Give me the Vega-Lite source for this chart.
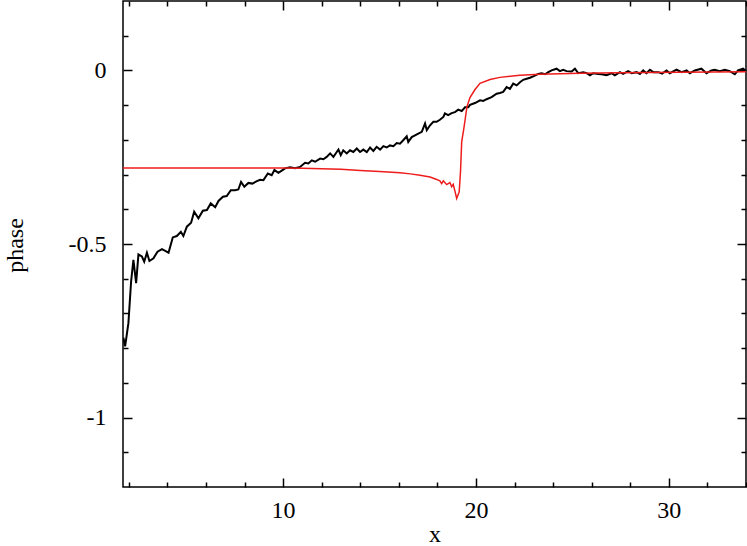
{
  "$schema": "https://vega.github.io/schema/vega-lite/v6.json",
  "width": 623,
  "height": 486,
  "autosize": {"type": "none"},
  "padding": {"left": 123, "top": 1, "right": 1, "bottom": 59},
  "background": "white",
  "config": {
    "font": "Liberation Serif",
    "view": {"stroke": "black", "strokeWidth": 1.5},
    "axis": {
      "domain": false,
      "grid": false,
      "tickColor": "black",
      "tickWidth": 1.5
    }
  },
  "datasets": {
    "black": [
      {"x": 1.72, "y": -0.77}, {"x": 1.81, "y": -0.795}, {"x": 1.98, "y": -0.728}, {"x": 2.12, "y": -0.608},
      {"x": 2.24, "y": -0.546}, {"x": 2.38, "y": -0.613}, {"x": 2.5, "y": -0.53}, {"x": 2.68, "y": -0.536},
      {"x": 2.8, "y": -0.551}, {"x": 2.94, "y": -0.525}, {"x": 3.07, "y": -0.549}, {"x": 3.28, "y": -0.541},
      {"x": 3.49, "y": -0.522}, {"x": 3.72, "y": -0.515}, {"x": 3.89, "y": -0.52}, {"x": 4.06, "y": -0.525},
      {"x": 4.28, "y": -0.481}, {"x": 4.49, "y": -0.477}, {"x": 4.7, "y": -0.465}, {"x": 4.83, "y": -0.477},
      {"x": 5.01, "y": -0.45}, {"x": 5.23, "y": -0.439}, {"x": 5.39, "y": -0.407}, {"x": 5.61, "y": -0.426},
      {"x": 5.84, "y": -0.404}, {"x": 6.05, "y": -0.402}, {"x": 6.25, "y": -0.383}, {"x": 6.48, "y": -0.394},
      {"x": 6.65, "y": -0.376}, {"x": 6.88, "y": -0.364}, {"x": 7.08, "y": -0.362}, {"x": 7.29, "y": -0.345},
      {"x": 7.51, "y": -0.345}, {"x": 7.68, "y": -0.343}, {"x": 7.82, "y": -0.321}, {"x": 7.99, "y": -0.335},
      {"x": 8.2, "y": -0.324}, {"x": 8.41, "y": -0.326}, {"x": 8.64, "y": -0.319}, {"x": 8.81, "y": -0.315},
      {"x": 8.98, "y": -0.316}, {"x": 9.21, "y": -0.297}, {"x": 9.41, "y": -0.302}, {"x": 9.55, "y": -0.287},
      {"x": 9.76, "y": -0.295}, {"x": 9.95, "y": -0.288}, {"x": 10.1, "y": -0.282}, {"x": 10.36, "y": -0.279},
      {"x": 10.62, "y": -0.282}, {"x": 10.88, "y": -0.278}, {"x": 11.14, "y": -0.266}, {"x": 11.31, "y": -0.268},
      {"x": 11.49, "y": -0.259}, {"x": 11.66, "y": -0.263}, {"x": 11.92, "y": -0.254}, {"x": 12.09, "y": -0.256},
      {"x": 12.26, "y": -0.249}, {"x": 12.44, "y": -0.239}, {"x": 12.61, "y": -0.249}, {"x": 12.78, "y": -0.235},
      {"x": 12.87, "y": -0.228}, {"x": 12.99, "y": -0.244}, {"x": 13.12, "y": -0.23}, {"x": 13.3, "y": -0.239},
      {"x": 13.47, "y": -0.23}, {"x": 13.64, "y": -0.235}, {"x": 13.82, "y": -0.225}, {"x": 13.99, "y": -0.235},
      {"x": 14.16, "y": -0.228}, {"x": 14.34, "y": -0.235}, {"x": 14.51, "y": -0.222}, {"x": 14.68, "y": -0.232},
      {"x": 14.85, "y": -0.22}, {"x": 15.03, "y": -0.228}, {"x": 15.2, "y": -0.218}, {"x": 15.37, "y": -0.222},
      {"x": 15.54, "y": -0.216}, {"x": 15.72, "y": -0.218}, {"x": 15.89, "y": -0.209}, {"x": 16.06, "y": -0.211},
      {"x": 16.23, "y": -0.201}, {"x": 16.41, "y": -0.19}, {"x": 16.49, "y": -0.206}, {"x": 16.67, "y": -0.192},
      {"x": 16.84, "y": -0.187}, {"x": 17.01, "y": -0.182}, {"x": 17.19, "y": -0.177}, {"x": 17.36, "y": -0.153},
      {"x": 17.45, "y": -0.172}, {"x": 17.62, "y": -0.158}, {"x": 17.79, "y": -0.148}, {"x": 17.96, "y": -0.148},
      {"x": 18.13, "y": -0.142}, {"x": 18.31, "y": -0.134}, {"x": 18.39, "y": -0.124}, {"x": 18.56, "y": -0.129},
      {"x": 18.74, "y": -0.123}, {"x": 18.91, "y": -0.12}, {"x": 19.08, "y": -0.113}, {"x": 19.26, "y": -0.117},
      {"x": 19.43, "y": -0.106}, {"x": 19.6, "y": -0.106}, {"x": 19.69, "y": -0.099}, {"x": 19.95, "y": -0.094},
      {"x": 20.21, "y": -0.086}, {"x": 20.38, "y": -0.088}, {"x": 20.55, "y": -0.083}, {"x": 20.81, "y": -0.077},
      {"x": 21.07, "y": -0.067}, {"x": 21.24, "y": -0.065}, {"x": 21.41, "y": -0.062}, {"x": 21.59, "y": -0.048},
      {"x": 21.76, "y": -0.053}, {"x": 21.93, "y": -0.038}, {"x": 22.11, "y": -0.043}, {"x": 22.28, "y": -0.034},
      {"x": 22.45, "y": -0.027}, {"x": 22.63, "y": -0.024}, {"x": 22.8, "y": -0.021}, {"x": 22.97, "y": -0.017},
      {"x": 23.23, "y": -0.01}, {"x": 23.4, "y": -0.008}, {"x": 23.58, "y": -0.011}, {"x": 23.75, "y": -0.005},
      {"x": 23.92, "y": 0.0}, {"x": 24.18, "y": 0.005}, {"x": 24.35, "y": -0.002}, {"x": 24.52, "y": 0.002},
      {"x": 24.7, "y": -0.002}, {"x": 24.96, "y": -0.003}, {"x": 25.13, "y": 0.005}, {"x": 25.3, "y": -0.008},
      {"x": 25.56, "y": -0.005}, {"x": 25.74, "y": -0.008}, {"x": 25.91, "y": -0.014}, {"x": 26.08, "y": -0.008},
      {"x": 26.34, "y": -0.01}, {"x": 26.51, "y": -0.011}, {"x": 26.77, "y": -0.014}, {"x": 27.03, "y": -0.008},
      {"x": 27.2, "y": -0.014}, {"x": 27.46, "y": -0.005}, {"x": 27.63, "y": -0.01}, {"x": 27.89, "y": -0.002},
      {"x": 28.07, "y": -0.008}, {"x": 28.33, "y": -0.005}, {"x": 28.5, "y": -0.01}, {"x": 28.67, "y": 0.0},
      {"x": 28.84, "y": -0.008}, {"x": 29.02, "y": 0.002}, {"x": 29.19, "y": -0.005}, {"x": 29.45, "y": -0.005},
      {"x": 29.65, "y": -0.009}, {"x": 29.88, "y": 0.0}, {"x": 30.05, "y": -0.008}, {"x": 30.4, "y": 0.002},
      {"x": 30.66, "y": -0.005}, {"x": 30.92, "y": 0.0}, {"x": 31.09, "y": -0.008}, {"x": 31.35, "y": 0.0},
      {"x": 31.69, "y": 0.005}, {"x": 31.95, "y": -0.008}, {"x": 32.21, "y": 0.0}, {"x": 32.38, "y": 0.002},
      {"x": 32.64, "y": -0.002}, {"x": 32.9, "y": 0.002}, {"x": 33.16, "y": -0.002}, {"x": 33.42, "y": -0.011},
      {"x": 33.59, "y": 0.0}, {"x": 33.85, "y": 0.005}, {"x": 34.0, "y": -0.002}
    ],
    "red": [
      {"x": 1.7, "y": -0.281}, {"x": 5, "y": -0.281}, {"x": 8, "y": -0.281}, {"x": 10, "y": -0.281},
      {"x": 11, "y": -0.282}, {"x": 12, "y": -0.283}, {"x": 13, "y": -0.285}, {"x": 14, "y": -0.288},
      {"x": 15, "y": -0.291}, {"x": 16.06, "y": -0.295}, {"x": 16.6, "y": -0.298}, {"x": 17.1, "y": -0.302},
      {"x": 17.62, "y": -0.307}, {"x": 17.96, "y": -0.314}, {"x": 18.13, "y": -0.318}, {"x": 18.22, "y": -0.326},
      {"x": 18.31, "y": -0.318}, {"x": 18.48, "y": -0.329}, {"x": 18.65, "y": -0.323}, {"x": 18.74, "y": -0.335},
      {"x": 18.82, "y": -0.328}, {"x": 18.92, "y": -0.35}, {"x": 19.0, "y": -0.369}, {"x": 19.13, "y": -0.35},
      {"x": 19.2, "y": -0.29}, {"x": 19.26, "y": -0.205}, {"x": 19.35, "y": -0.175}, {"x": 19.43, "y": -0.145},
      {"x": 19.53, "y": -0.105}, {"x": 19.69, "y": -0.078}, {"x": 19.95, "y": -0.055}, {"x": 20.21, "y": -0.037},
      {"x": 20.73, "y": -0.026}, {"x": 21.24, "y": -0.02}, {"x": 22.28, "y": -0.014}, {"x": 23.32, "y": -0.011},
      {"x": 25.39, "y": -0.008}, {"x": 27.46, "y": -0.007}, {"x": 30.57, "y": -0.005}, {"x": 34, "y": -0.004}
    ]
  },
  "resolve": {"axis": {"x": "independent", "y": "independent"}},
  "layer": [
    {
      "data": {"name": "black"},
      "mark": {"type": "line", "color": "black", "strokeWidth": 2, "clip": true},
      "encoding": {
        "x": {"field": "x", "type": "quantitative", "scale": {"domain": [1.7, 34], "nice": false, "zero": false},
          "axis": {"orient": "bottom", "values": [10, 20, 30], "tickSize": -9, "labelPadding": 20, "title": "x",
            "labelFont": "Liberation Serif", "labelFontSize": 24, "labelColor": "black",
            "titleFont": "Liberation Serif", "titleFontSize": 24, "titleFontWeight": "normal", "titleColor": "black",
            "titleY": 54, "titleBaseline": "alphabetic", "labelExpr": "'' + datum.value"}},
        "y": {"field": "y", "type": "quantitative", "scale": {"domain": [-1.2, 0.2], "nice": false, "zero": false},
          "axis": {"orient": "left", "values": [-1, -0.5, 0], "tickSize": -9, "labelPadding": 26, "title": "phase",
            "labelFont": "Liberation Serif", "labelFontSize": 24, "labelColor": "black",
            "titleFont": "Liberation Serif", "titleFontSize": 24, "titleFontWeight": "normal", "titleColor": "black",
            "titleX": -96, "titleY": 244, "labelExpr": "'' + datum.value"}}
      }
    },
    {
      "data": {"name": "red"},
      "mark": {"type": "line", "color": "#ee1c1c", "strokeWidth": 1.5, "clip": true},
      "encoding": {
        "x": {"field": "x", "type": "quantitative", "scale": {"domain": [1.7, 34], "nice": false, "zero": false},
          "axis": {"orient": "top", "values": [10, 20, 30], "tickSize": -9, "labels": false, "title": null}},
        "y": {"field": "y", "type": "quantitative", "scale": {"domain": [-1.2, 0.2], "nice": false, "zero": false},
          "axis": {"orient": "right", "values": [-1, -0.5, 0], "tickSize": -9, "labels": false, "title": null}}
      }
    },
    {
      "data": {"name": "red"},
      "mark": {"type": "line", "opacity": 0},
      "encoding": {
        "x": {"field": "x", "type": "quantitative", "scale": {"domain": [1.7, 34], "nice": false, "zero": false},
          "axis": {"orient": "bottom", "values": [2, 4, 6, 8, 12, 14, 16, 18, 22, 24, 26, 28, 32, 34], "tickSize": -5, "labels": false, "title": null}},
        "y": {"field": "y", "type": "quantitative", "scale": {"domain": [-1.2, 0.2], "nice": false, "zero": false},
          "axis": {"orient": "left", "values": [-1.1, -0.9, -0.8, -0.7, -0.6, -0.4, -0.3, -0.2, -0.1, 0.1], "tickSize": -5, "labels": false, "title": null}}
      }
    },
    {
      "data": {"name": "red"},
      "mark": {"type": "line", "opacity": 0},
      "encoding": {
        "x": {"field": "x", "type": "quantitative", "scale": {"domain": [1.7, 34], "nice": false, "zero": false},
          "axis": {"orient": "top", "values": [2, 4, 6, 8, 12, 14, 16, 18, 22, 24, 26, 28, 32, 34], "tickSize": -5, "labels": false, "title": null}},
        "y": {"field": "y", "type": "quantitative", "scale": {"domain": [-1.2, 0.2], "nice": false, "zero": false},
          "axis": {"orient": "right", "values": [-1.1, -0.9, -0.8, -0.7, -0.6, -0.4, -0.3, -0.2, -0.1, 0.1], "tickSize": -5, "labels": false, "title": null}}
      }
    }
  ]
}
